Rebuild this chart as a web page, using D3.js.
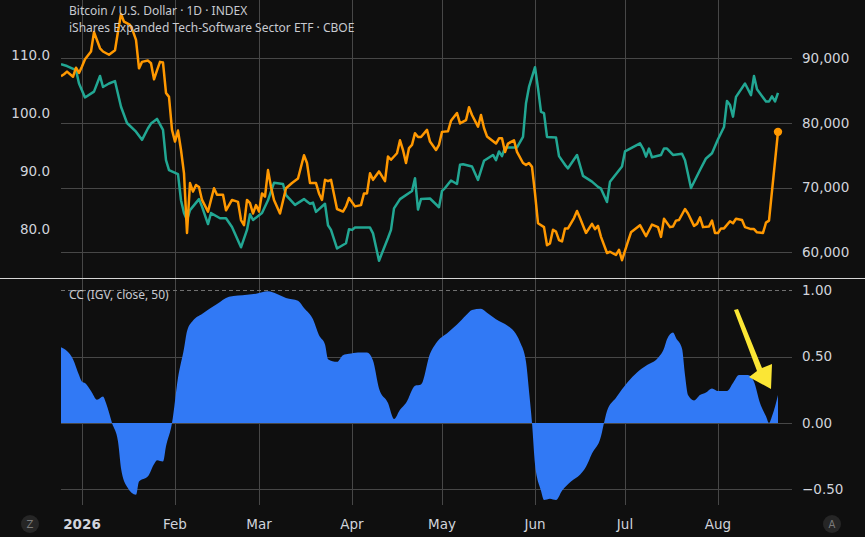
<!DOCTYPE html>
<html>
<head>
<meta charset="utf-8">
<script src="https://cdn.jsdelivr.net/npm/d3@7"></script>
<style>
html, body { margin: 0; padding: 0; background: #0f0f0f; }
svg { display: block; font-family: "DejaVu Sans", sans-serif; }
</style>
</head>
<body>
<svg id="chart" width="865" height="537"></svg>
<script>
// day numbers are counted from 2026-01-01
var btcDays = [-7,-6,-5,-3,-2,-1,0,1,3,4,6,7,9,11,12,13,14,16,17,18,19,20,22,23,24,25,26,27,28,29,30,31,32,33,34,35,36,37,38,39,40,42,43,44,45,47,48,50,52,53,54,55,56,57,58,59,60,61,62,63,64,66,68,70,72,74,75,76,78,79,80,81,82,83,85,87,88,89,91,93,94,95,96,97,99,101,102,103,105,106,107,108,109,110,111,112,113,115,116,118,119,120,122,123,125,126,128,129,130,132,133,134,135,138,139,140,141,142,144,145,147,148,149,150,151,152,154,155,156,157,158,159,160,161,162,164,165,166,168,170,171,172,173,175,176,178,179,180,182,183,186,188,190,192,193,194,196,197,198,199,201,202,204,205,206,207,209,210,211,212,213,214,216,217,218,220,221,223,224,225,227,228,229,232];
var btcClose = [87200,87500,87900,87100,88500,87700,88700,89800,91000,94000,91500,91000,90500,91200,94100,96800,95600,95100,94100,92800,88400,89400,89600,89200,86700,88100,89400,89300,84600,84000,78900,77100,78800,75800,72200,63000,70700,69400,70400,70100,68100,66300,68100,69900,68900,68900,66500,68100,67800,65000,64200,68100,67600,66000,67300,66300,69100,68600,72700,70100,68100,66000,69900,70700,71400,75000,73800,70700,70700,69100,68100,71200,71000,71200,66700,66300,67100,68400,67100,67300,69100,69100,72200,71200,72500,71000,74800,74300,75300,77300,75800,73800,76100,76600,78400,77800,77800,78900,77100,75800,76600,78600,78700,80300,81500,79900,80400,82400,81200,79400,81200,79200,77900,76800,77600,77600,75500,76800,77300,75500,73800,73500,73800,73200,69100,64500,63900,61100,61400,63500,63200,61900,61700,63700,63700,65300,66400,65300,63000,64400,63600,64100,62400,59900,60100,59600,60400,58800,61700,63100,64200,62500,64300,63900,62400,65200,63900,64000,64900,65000,66700,66000,64100,64400,65400,63900,64000,64900,63000,63000,63700,63700,64800,64500,65200,65000,63900,63600,63600,63100,63000,64600,64900,78600];

var igvDays = [-7,-5,-2,-1,1,4,6,7,9,11,13,15,18,20,22,23,25,27,28,29,32,33,34,35,36,39,40,42,43,46,48,50,53,55,56,57,60,62,64,67,68,71,74,75,76,77,78,81,82,83,85,88,89,90,91,96,97,99,102,103,104,106,110,111,112,113,116,119,120,121,123,125,126,127,130,132,134,137,138,139,140,141,145,147,148,149,151,152,153,154,155,158,159,161,162,165,167,170,172,173,175,176,180,181,186,187,188,189,190,193,194,195,197,200,201,203,206,208,210,212,214,215,216,217,218,221,223,224,225,228,229,230,231,232];
var igvClose = [108.4,108.1,107.4,105.1,102.7,103.7,106.4,104.5,105.1,105.5,101.1,98.3,96.8,95.4,97.4,98.2,99.0,97.1,91.9,90.2,89.5,85.0,82.8,81.6,83.3,85.2,83.9,80.9,82.8,81.9,81.9,80.4,76.9,79.9,82.6,81.6,82.8,85.0,88.0,87.8,85.9,84.2,85.2,84.8,84.4,84.6,83.0,84.4,80.7,79.9,76.7,77.6,80.0,79.9,80.3,80.3,79.3,74.6,78.5,79.9,83.6,85.2,86.6,88.8,83.4,85.2,85.3,83.8,86.6,87.1,88.4,87.8,91.1,91.2,90.8,88.5,91.8,92.8,91.9,93.4,92.6,94.1,94.1,95.9,101.7,104.5,107.9,104.3,100.2,100.0,95.9,95.8,92.6,91.1,90.5,92.8,89.2,88.2,87.3,87.0,84.7,88.2,90.8,93.4,94.8,93.9,92.5,93.9,92.4,92.8,93.9,93.9,92.8,93.0,91.9,87.1,90.2,92.2,93.1,95.5,97.6,102.1,101.4,99.4,102.8,105.1,103.1,106.4,104.1,102.0,102.0,102.9,102.0,103.5];

var ccDays = [-7,-3,-1,0,1,3,5,7,8,10,12,13,15,18,19,22,24,25,27,28,30,32,34,35,37,40,45,49,55,58,62,65,68,72,74,77,79,81,82,85,87,89,92,95,97,99,102,104,106,108,111,113,116,118,122,125,128,130,133,135,138,142,144,146,148,149,150,151,153,154,156,158,160,163,166,168,170,173,174,175,178,182,185,188,192,194,195,197,198,200,201,202,204,206,208,210,212,215,217,219,222,224,226,228,229,230,232];
var ccValues = [0.57,0.48,0.36,0.31,0.30,0.24,0.175,0.20,0.15,0.0,-0.14,-0.34,-0.48,-0.54,-0.44,-0.40,-0.31,-0.28,-0.29,-0.175,0.0,0.34,0.56,0.69,0.77,0.82,0.895,0.95,0.965,0.972,0.99,0.97,0.94,0.92,0.865,0.78,0.66,0.59,0.48,0.46,0.51,0.52,0.53,0.53,0.47,0.26,0.15,0.03,0.10,0.15,0.28,0.29,0.52,0.60,0.68,0.74,0.81,0.85,0.86,0.83,0.78,0.73,0.69,0.61,0.46,0.24,0.0,-0.31,-0.51,-0.58,-0.57,-0.58,-0.51,-0.44,-0.39,-0.33,-0.23,-0.10,0.0,0.09,0.19,0.31,0.38,0.43,0.49,0.56,0.63,0.68,0.64,0.56,0.36,0.21,0.17,0.21,0.23,0.26,0.24,0.24,0.30,0.36,0.36,0.31,0.15,0.05,0.0,0.05,0.21];

var btcTicks = [60000, 70000, 80000, 90000];
var igvTicks = [80, 90, 100, 110];
var ccTicks = [-0.5, 0, 0.5];
var ccDashed = [1];
var titleLines = ["Bitcoin / U.S. Dollar \u00b7 1D \u00b7 INDEX", "iShares Expanded Tech-Software Sector ETF \u00b7 CBOE"];

var W = 865, H = 537,
    left = 61, right = 792,
    topY = 0, topBottom = 278,
    lowTop = 279, lowBottom = 505,
    gridColor = "#474747",
    textColor = "#d1d4dc";

function dayToDate(d) {
    return new Date(Date.UTC(2026, 0, 1) + d * 864e5);
}

var x = d3.scaleUtc()
    .domain([dayToDate(-7), dayToDate(236.667)])
    .range([left, right]);

var yBtc = d3.scaleLinear().domain([56050, 98950]).range([topBottom, topY]);
var yIgv = d3.scaleLinear().domain([71.62, 119.47]).range([topBottom, topY]);
var yCc = d3.scaleLinear().domain([-0.617, 1.083]).range([lowBottom, lowTop]);

var svg = d3.select("#chart");

svg.append("rect").attr("width", W).attr("height", H).attr("fill", "#0f0f0f");

var defs = svg.append("defs");
defs.append("clipPath").attr("id", "clipTop").append("rect")
    .attr("x", left).attr("y", topY).attr("width", right - left).attr("height", topBottom - topY);
defs.append("clipPath").attr("id", "clipLow").append("rect")
    .attr("x", left).attr("y", lowTop).attr("width", right - left).attr("height", lowBottom - lowTop);

var months = x.ticks(d3.utcMonth.every(1));

// vertical grid in both panes
var grid = svg.append("g").attr("stroke", gridColor).attr("stroke-width", 1);
grid.selectAll("line.v").data(months).enter().append("line")
    .attr("x1", function (d) { return Math.round(x(d)) + 0.5; })
    .attr("x2", function (d) { return Math.round(x(d)) + 0.5; })
    .attr("y1", topY).attr("y2", lowBottom);

// horizontal grid: price pane follows the right axis
grid.selectAll("line.hb").data(btcTicks).enter().append("line")
    .attr("x1", left).attr("x2", right)
    .attr("y1", function (d) { return Math.round(yBtc(d)) + 0.5; })
    .attr("y2", function (d) { return Math.round(yBtc(d)) + 0.5; });

grid.selectAll("line.hc").data(ccTicks).enter().append("line")
    .attr("x1", left).attr("x2", right)
    .attr("y1", function (d) { return Math.round(yCc(d)) + 0.5; })
    .attr("y2", function (d) { return Math.round(yCc(d)) + 0.5; });

svg.append("g").selectAll("line").data(ccDashed).enter().append("line")
    .attr("x1", left).attr("x2", right)
    .attr("y1", function (d) { return Math.round(yCc(d)) + 0.5; })
    .attr("y2", function (d) { return Math.round(yCc(d)) + 0.5; })
    .attr("stroke", "#707070").attr("stroke-dasharray", "4,3");

// correlation area
var ccData = ccDays.map(function (d, i) { return { date: dayToDate(d), v: ccValues[i] }; });
var area = d3.area()
    .x(function (d) { return x(d.date); })
    .y0(yCc(0))
    .y1(function (d) { return yCc(d.v); })
    .curve(d3.curveMonotoneX);

svg.append("path")
    .datum(ccData)
    .attr("clip-path", "url(#clipLow)")
    .attr("fill", "#3179f5")
    .attr("d", area);

// price lines
var igvData = igvDays.map(function (d, i) { return { date: dayToDate(d), v: igvClose[i] }; });
var btcData = btcDays.map(function (d, i) { return { date: dayToDate(d), v: btcClose[i] }; });

var lineIgv = d3.line()
    .x(function (d) { return x(d.date); })
    .y(function (d) { return yIgv(d.v); });
var lineBtc = d3.line()
    .x(function (d) { return x(d.date); })
    .y(function (d) { return yBtc(d.v); });

var plot = svg.append("g").attr("clip-path", "url(#clipTop)");
plot.append("path").datum(igvData)
    .attr("fill", "none").attr("stroke", "#22a793").attr("stroke-width", 2.5)
    .attr("stroke-linejoin", "round").attr("d", lineIgv);
plot.append("path").datum(btcData)
    .attr("fill", "none").attr("stroke", "#ff9800").attr("stroke-width", 2.5)
    .attr("stroke-linejoin", "round").attr("d", lineBtc);

var last = btcData[btcData.length - 1];
svg.append("circle")
    .attr("cx", x(last.date)).attr("cy", yBtc(last.v)).attr("r", 4.2)
    .attr("fill", "#ff9800");

// pane separator
svg.append("line")
    .attr("x1", 0).attr("x2", W).attr("y1", 278.5).attr("y2", 278.5)
    .attr("stroke", "#d6d6d6").attr("stroke-width", 1);

// axes labels
var labels = svg.append("g").attr("fill", textColor).style("font-size", "13.5px");

labels.selectAll("text.r").data(btcTicks).enter().append("text")
    .attr("x", 802).attr("y", function (d) { return yBtc(d); })
    .attr("dy", "0.35em")
    .text(function (d) { return d3.format(",")(d); });

labels.selectAll("text.l").data(igvTicks).enter().append("text")
    .attr("x", 50).attr("y", function (d) { return yIgv(d); })
    .attr("dy", "0.35em").attr("text-anchor", "end")
    .text(function (d) { return d3.format(".1f")(d); });

labels.selectAll("text.c").data(ccTicks.concat(ccDashed)).enter().append("text")
    .attr("x", 802).attr("y", function (d) { return yCc(d); })
    .attr("dy", "0.35em")
    .text(function (d) { return d3.format(".2f")(d).replace("-", "\u2212"); });

labels.selectAll("text.m").data(months).enter().append("text")
    .attr("x", function (d) { return x(d); })
    .attr("y", 524).attr("dy", "0.35em").attr("text-anchor", "middle")
    .style("font-weight", function (d) { return d.getUTCMonth() === 0 ? "bold" : "normal"; })
    .text(function (d) { return d.getUTCMonth() === 0 ? d3.utcFormat("%Y")(d) : d3.utcFormat("%b")(d); });

// legend text
svg.selectAll("text.t").data(titleLines).enter().append("text")
    .attr("x", 69).attr("y", function (d, i) { return 11 + i * 17; })
    .attr("dy", "0.35em").attr("fill", "#c8cad0")
    .style("font-family", "'Noto Sans', sans-serif").style("font-size", "12px")
    .text(function (d) { return d; });

svg.append("text")
    .attr("x", 69).attr("y", 295).attr("dy", "0.35em")
    .attr("fill", "#c8cad0")
    .style("font-family", "'Noto Sans', sans-serif").style("font-size", "12px")
    .text("CC (IGV, close, 50)");

// corner buttons
[["Z", 30], ["A", 832]].forEach(function (b) {
    svg.append("circle").attr("cx", b[1]).attr("cy", 524).attr("r", 9).attr("fill", "#262626");
    svg.append("text").attr("x", b[1]).attr("y", 524).attr("dy", "0.35em")
        .attr("text-anchor", "middle").attr("fill", "#7a7a7a").style("font-size", "10px")
        .text(b[0]);
});

// yellow pointer annotation
svg.append("polygon")
    .attr("points", "734,310 738,309 762,368 772,364 771,389 749,377 757,371")
    .attr("fill", "#fbe635");
</script>
</body>
</html>
